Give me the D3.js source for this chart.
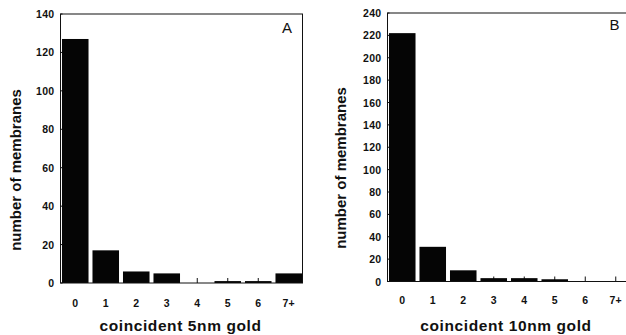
<!DOCTYPE html>
<html>
<head>
<meta charset="utf-8">
<script src="https://cdn.jsdelivr.net/npm/d3@7/dist/d3.min.js"></script>
<style>
  html, body { margin: 0; padding: 0; background: #fff; }
  svg { display: block; }
  text { font-family: "Liberation Sans", Arial, Helvetica, sans-serif; fill: #111; }
</style>
</head>
<body>
<svg id="chart" width="626" height="335"></svg>
<script>
// ---- data ----
const categories = ["0", "1", "2", "3", "4", "5", "6", "7+"];
const countsA = [127, 17, 6, 5, 0, 1, 1, 5];
const countsB = [222, 31, 10, 3, 3, 2, 0, 0];
const yTicksA = [0, 20, 40, 60, 80, 100, 120, 140];
const yTicksB = [0, 20, 40, 60, 80, 100, 120, 140, 160, 180, 200, 220, 240];
const xTitleA = "coincident 5nm gold";
const xTitleB = "coincident 10nm gold";
const yTitle = "number of membranes";
const panelLetters = ["A", "B"];

const svg = d3.select("#chart");

const panels = [
  { values: countsA, ticks: yTicksA, xTitle: xTitleA, letter: panelLetters[0],
    x0: 60, x1: 304, frameL: 60.5, frameR: 302.5, top: 14, bottom: 283,
    yMax: 140, yTitleX: 21, yTitleY: 170, xTitleX: 180.5, xTitleY: 331,
    xTickY: 307, letterX: 287, letterY: 33 },
  { values: countsB, ticks: yTicksB, xTitle: xTitleB, letter: panelLetters[1],
    x0: 387, x1: 631, frameL: 387.5, frameR: 630.5, top: 13, bottom: 281.5,
    yMax: 240, yTitleX: 346, yTitleY: 168, xTitleX: 506, xTitleY: 331,
    xTickY: 304, letterX: 614.5, letterY: 30 }
];

panels.forEach(p => {
  const g = svg.append("g");
  const x = d3.scaleBand().domain(categories).range([p.x0, p.x1])
    .paddingInner(0.13).paddingOuter(0.065);
  const y = d3.scaleLinear().domain([0, p.yMax]).range([p.bottom, p.top]);

  // x tick marks (inward, at band centers)
  g.selectAll("line.xt").data(categories).join("line")
    .attr("x1", d => x(d) + x.bandwidth() / 2)
    .attr("x2", d => x(d) + x.bandwidth() / 2)
    .attr("y1", p.bottom).attr("y2", p.bottom - 5)
    .attr("stroke", "#111").attr("stroke-width", 1);

  // bars
  g.selectAll("rect.bar").data(p.values).join("rect")
    .attr("x", (d, i) => x(categories[i]))
    .attr("width", x.bandwidth())
    .attr("y", d => y(d))
    .attr("height", d => p.bottom - y(d))
    .attr("fill", "#050505");

  // frame
  g.append("rect")
    .attr("x", p.frameL).attr("y", p.top)
    .attr("width", p.frameR - p.frameL).attr("height", p.bottom - p.top)
    .attr("fill", "none").attr("stroke", "#111").attr("stroke-width", 1);

  // y ticks inward
  g.selectAll("line.yt").data(p.ticks).join("line")
    .attr("x1", p.frameL).attr("x2", p.frameL + 2)
    .attr("y1", d => y(d)).attr("y2", d => y(d))
    .attr("stroke", "#111");

  // y tick labels
  g.selectAll("text.ytl").data(p.ticks).join("text")
    .attr("x", p.frameL - 6).attr("y", d => y(d) + 4)
    .attr("text-anchor", "end")
    .style("font-size", "10.5px").style("font-weight", "bold")
    .style("letter-spacing", "0.3px")
    .text(d => d);

  // x tick labels
  g.selectAll("text.xtl").data(categories).join("text")
    .attr("x", d => x(d) + x.bandwidth() / 2).attr("y", p.xTickY)
    .attr("text-anchor", "middle")
    .style("font-size", "10.5px").style("font-weight", "bold")
    .style("letter-spacing", "0.3px")
    .text(d => d);

  // axis titles
  g.append("text")
    .attr("transform", `translate(${p.yTitleX},${p.yTitleY}) rotate(-90)`)
    .attr("text-anchor", "middle")
    .style("font-size", "15px").style("font-weight", "bold")
    .text(yTitle);

  g.append("text")
    .attr("x", p.xTitleX).attr("y", p.xTitleY)
    .attr("text-anchor", "middle")
    .style("font-size", "15.5px").style("font-weight", "bold")
    .style("letter-spacing", "0.6px")
    .text(p.xTitle);

  // panel letter
  g.append("text")
    .attr("x", p.letterX).attr("y", p.letterY)
    .attr("text-anchor", "middle")
    .style("font-size", "15px")
    .text(p.letter);
});
</script>
</body>
</html>
